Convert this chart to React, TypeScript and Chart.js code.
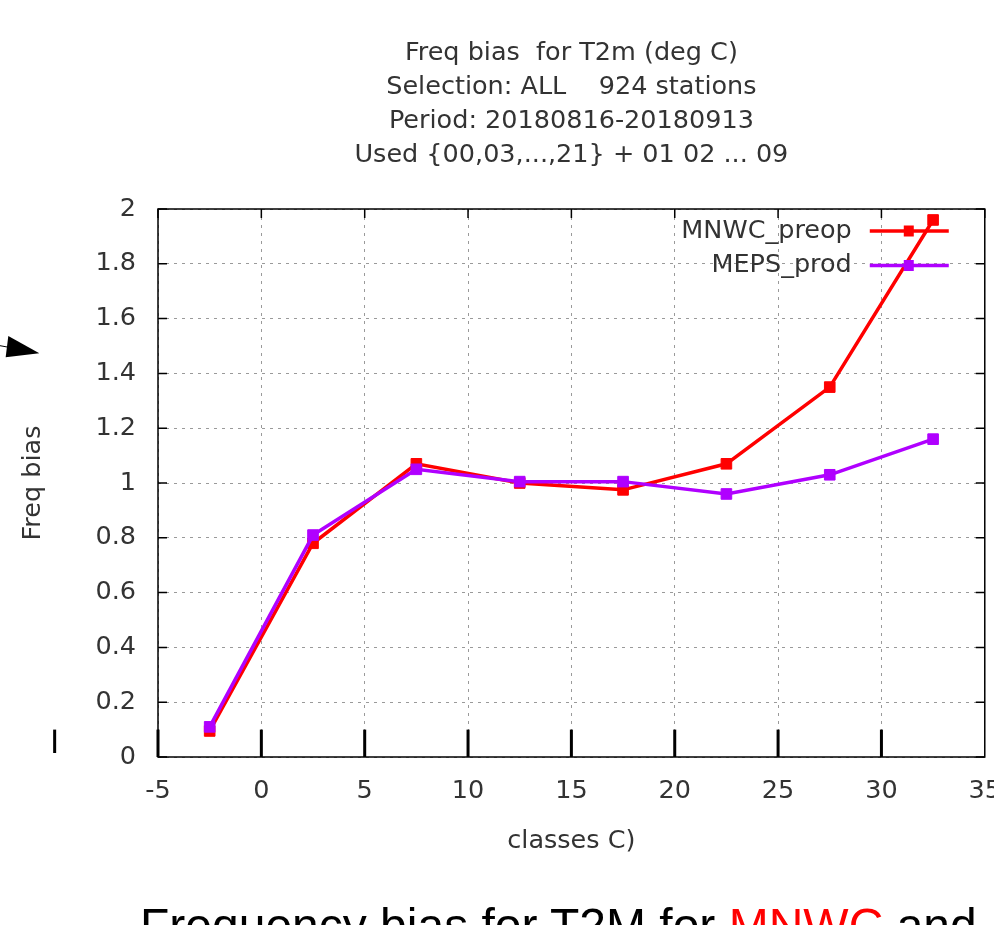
import React, { useEffect, useRef } from "react";
import { Chart, registerables } from "chart.js";

Chart.register(...registerables);

// ---- data ----
const classCenters = [-2.5, 2.5, 7.5, 12.5, 17.5, 22.5, 27.5, 32.5];
const mnwcPreop = [0.095, 0.78, 1.07, 1.0, 0.975, 1.07, 1.35, 1.96];
const mepsProd = [0.11, 0.81, 1.05, 1.005, 1.005, 0.96, 1.03, 1.16];
const seriesLabels = ["MNWC_preop", "MEPS_prod"];
const seriesColors = ["#ff0000", "#b000ff"];
const titleLines = [
  "Freq bias  for T2m (deg C)",
  "Selection: ALL    924 stations",
  "Period: 20180816-20180913",
  "Used {00,03,...,21} + 01 02 ... 09",
];
const xAxisTitle = "classes C)";
const yAxisTitle = "Freq bias";
const bottomBarValues = [-10, -5, 0, 5, 10, 15, 20, 25, 30];

const FONT = '"DejaVu Sans", sans-serif';
const TEXT = "#333";
const GRID = "#9a9a9a";

const toPoints = (ys: number[]) => classCenters.map((x, i) => ({ x, y: ys[i] }));

const framePlugin = {
  id: "gnuFrame",
  beforeDatasetsDraw(chart: any) {
    const { ctx, chartArea } = chart;
    const xs = chart.scales.x;
    const ys = chart.scales.y;
    const { left, right, top, bottom } = chartArea;
    ctx.save();
    ctx.strokeStyle = "#000";
    ctx.lineWidth = 1.5;
    ctx.strokeRect(left, top, right - left, bottom - top);
    ctx.beginPath();
    ys.ticks.forEach((t: any) => {
      const y = ys.getPixelForValue(t.value);
      ctx.moveTo(left, y);
      ctx.lineTo(left + 9, y);
      ctx.moveTo(right, y);
      ctx.lineTo(right - 9, y);
    });
    xs.ticks.forEach((t: any) => {
      const x = xs.getPixelForValue(t.value);
      ctx.moveTo(x, top);
      ctx.lineTo(x, top + 9);
    });
    ctx.stroke();
    // thick bars along the bottom
    ctx.fillStyle = "#000";
    const y0 = ys.getPixelForValue(0);
    const y1 = ys.getPixelForValue(0.1);
    bottomBarValues.forEach((v) => {
      const x = xs.getPixelForValue(v);
      const short = v < -5 ? 4 : 0;
      ctx.fillRect(x - 1.5, y1, 3, y0 - y1 - short);
    });
    ctx.restore();
  },
  afterDatasetsDraw(chart: any) {
    const { ctx, chartArea } = chart;
    ctx.save();
    chart.data.datasets.forEach((ds: any, i: number) => {
      const y = chartArea.top + 22 + i * 34.5;
      ctx.font = `25.5px ${FONT}`;
      ctx.fillStyle = TEXT;
      ctx.textAlign = "right";
      ctx.textBaseline = "middle";
      ctx.fillText(ds.label, chartArea.right - 133, y);
      ctx.strokeStyle = ds.borderColor;
      ctx.lineWidth = 3.5;
      ctx.beginPath();
      ctx.moveTo(chartArea.right - 115, y);
      ctx.lineTo(chartArea.right - 36, y);
      ctx.stroke();
      ctx.fillStyle = ds.borderColor;
      ctx.fillRect(chartArea.right - 81, y - 5.5, 10, 11);
    });
    ctx.restore();
  },
};

function ChartCanvas() {
  const ref = useRef<HTMLCanvasElement | null>(null);
  useEffect(() => {
    if (!ref.current) return;
    const datasets = [mnwcPreop, mepsProd].map((vals, i) => ({
      label: seriesLabels[i],
      data: toPoints(vals),
      borderColor: seriesColors[i],
      backgroundColor: seriesColors[i],
      borderWidth: 3.5,
      pointStyle: "rect",
      pointRadius: 7.5,
      pointBorderWidth: 1,
      tension: 0,
      order: i === 0 ? 1 : 0,
    }));
    const chart = new Chart(ref.current, {
      type: "line",
      data: { datasets },
      plugins: [framePlugin],
      options: {
        animation: false,
        responsive: false,
        devicePixelRatio: 1,
        layout: { padding: { left: 0, top: 0, right: 34, bottom: 68 } },
        plugins: {
          legend: { display: false },
          tooltip: { enabled: false },
          title: {
            display: true,
            text: titleLines,
            fullSize: false,
            color: TEXT,
            font: { family: FONT, size: 25.5, weight: "normal", lineHeight: 34 / 25.5 },
            padding: { top: 36, bottom: 37 },
          },
        },
        scales: {
          x: {
            type: "linear",
            min: -5,
            max: 35,
            ticks: {
              stepSize: 5,
              color: TEXT,
              padding: 19,
              maxRotation: 0,
              font: { family: FONT, size: 25.5 },
            },
            grid: { color: GRID, lineWidth: 1, drawTicks: false },
            border: { display: false, dash: [3, 5] },
            title: {
              display: true,
              text: xAxisTitle,
              color: TEXT,
              font: { family: FONT, size: 25.5 },
              padding: { top: 0, bottom: 0 },
            },
            afterFit: (s: any) => {
              s.height = 100;
            },
          },
          y: {
            type: "linear",
            min: 0,
            max: 2,
            ticks: {
              stepSize: 0.2,
              color: TEXT,
              padding: 22,
              font: { family: FONT, size: 25.5 },
              callback: (v: any) => String(Number(Number(v).toFixed(1))),
            },
            grid: { color: GRID, lineWidth: 1, drawTicks: false },
            border: { display: false, dash: [3, 5] },
            title: {
              display: true,
              text: yAxisTitle,
              color: TEXT,
              font: { family: FONT, size: 25.5 },
              padding: { top: 18, bottom: 0 },
            },
            afterFit: (s: any) => {
              s.width = 158;
            },
          },
        },
      } as any,
    });
    return () => chart.destroy();
  }, []);
  return (
    <canvas
      ref={ref}
      width={1020}
      height={925}
      style={{ position: "absolute", left: 0, top: 0, display: "block" }}
    />
  );
}

export default function App() {
  return (
    <div
      style={{
        position: "fixed",
        left: 0,
        top: 0,
        width: 994,
        height: 925,
        overflow: "hidden",
        background: "#fff",
      }}
    >
      <ChartCanvas />
      <svg
        width={50}
        height={40}
        style={{ position: "absolute", left: 0, top: 330 }}
      >
        <line x1={0} y1={15.7} x2={10} y2={17.5} stroke="#000" strokeWidth={1} />
        <polygon points="8.3,6 39.3,23.3 5.7,27.3" fill="#000" />
      </svg>
      <div
        style={{
          position: "absolute",
          left: 140,
          top: 902,
          font: '48px "Liberation Sans", Arial, sans-serif',
          lineHeight: "48px",
          whiteSpace: "nowrap",
          color: "#000",
        }}
      >
        Frequency bias for T2M for <span style={{ color: "#ff0000" }}>MNWC</span> and
      </div>
    </div>
  );
}
